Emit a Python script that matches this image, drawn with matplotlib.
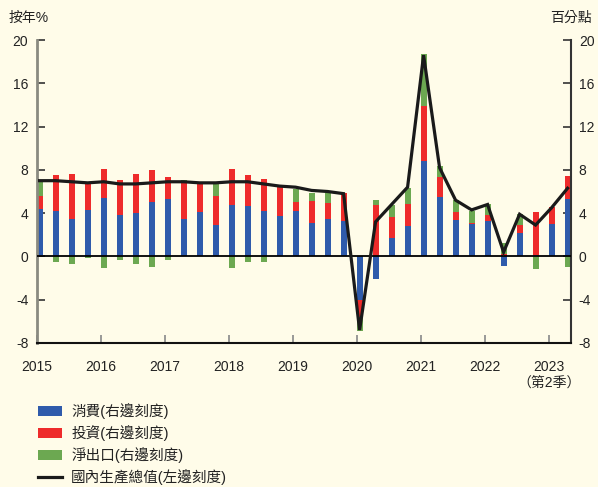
import matplotlib
matplotlib.use("Agg")
import matplotlib.pyplot as plt
from matplotlib.patches import Patch
from matplotlib.lines import Line2D
import numpy as np

plt.rcParams['font.family'] = ['Liberation Sans', 'Noto Sans CJK TC', 'DejaVu Sans']

quarters = [f"{y}Q{q}" for y in range(2015, 2024) for q in range(1, 5)][:34]

consumption = [4.4, 4.2, 3.5, 4.3, 5.4, 3.8, 4.0, 5.0, 5.3, 3.5, 4.1, 2.9,
               4.75, 4.7, 4.2, 3.7, 4.2, 3.1, 3.5, 3.3, -4.0, -2.1, 1.7, 2.85,
               8.8, 5.5, 3.4, 3.0, 3.25, -0.86, 2.2, 0.15, 3.0, 5.3]
investment = [1.2, 3.3, 4.1, 2.6, 2.7, 3.3, 3.6, 3.0, 2.0, 3.5, 2.7, 2.7,
              3.3, 2.8, 3.0, 2.7, 0.85, 2.0, 1.4, 2.55, -1.6, 4.75, 1.95, 2.0,
              5.06, 1.84, 0.7, 0.1, 0.58, 0.27, 0.74, 4.0, 1.6, 2.1]
net_exports = [1.4, -0.5, -0.7, -0.15, -1.1, -0.35, -0.7, -1.0, -0.3, 0.05, 0.0, 1.2,
               -1.1, -0.55, -0.5, 0.0, 1.15, 0.77, 0.95, 0.0, -1.25, 0.5, 1.1, 1.5,
               4.85, 1.0, 1.14, 1.13, 1.0, 1.0, 0.95, -1.17, 0.0, -1.0]
gdp = [7.0, 7.0, 6.9, 6.8, 6.9, 6.7, 6.7, 6.8, 6.9, 6.9, 6.8, 6.8,
       6.9, 6.9, 6.7, 6.5, 6.4, 6.1, 6.0, 5.8, -6.8, 3.2, 4.8, 6.4,
       18.6, 8.2, 5.2, 4.3, 4.8, 0.4, 3.9, 2.9, 4.5, 6.3]

year_labels = ["2015", "2016", "2017", "2018", "2019", "2020", "2021", "2022", "2023\n（第2季）"]
y_ticks = [-8, -4, 0, 4, 8, 12, 16, 20]

legend_labels = ["消費(右邊刻度)", "投資(右邊刻度)", "淨出口(右邊刻度)", "國內生產總值(左邊刻度)"]

c_blue = "#2f5bab"
c_red = "#ee2b2b"
c_green = "#6ca851"
bg = "#fffce9"

fig = plt.figure(figsize=(5.98, 4.87), dpi=100, facecolor=bg)
W, H = 598, 487
ax = fig.add_axes([36.6 / W, (H - 343) / H, (570.5 - 36.6) / W, 303 / H])
ax.set_facecolor(bg)

cons = np.array(consumption)
inv = np.array(investment)
net = np.array(net_exports)
x = np.arange(len(cons))
bw = 0.375

def stack_bottoms(vals_list):
    pos = np.zeros(len(x))
    neg = np.zeros(len(x))
    out = []
    for v in vals_list:
        b = np.where(v >= 0, pos, neg)
        out.append(b)
        pos = np.where(v >= 0, pos + v, pos)
        neg = np.where(v < 0, neg + v, neg)
    return out

b_c, b_i, b_n = stack_bottoms([cons, inv, net])
ax.bar(x, cons, bw, bottom=b_c, align='edge', color=c_blue, zorder=2)
ax.bar(x, inv, bw, bottom=b_i, align='edge', color=c_red, zorder=2)
ax.bar(x, net, bw, bottom=b_n, align='edge', color=c_green, zorder=2)

ax.axhline(0, color="black", lw=1.3, zorder=3)
ax.plot(x + bw / 2, gdp, color="#1a1a1a", lw=2.3, zorder=4, solid_joinstyle='miter')

ax.set_xlim(0, 33.37)
ax.set_ylim(-8, 20)

ax.set_yticks(y_ticks)
ax.set_yticklabels([str(t) for t in y_ticks])
ax.tick_params(axis='y', direction='in', length=6, width=1.2, color="#333333",
               labelsize=10, labelcolor="#222222", left=True, right=True,
               labelleft=True, labelright=True, pad=6)
ax.set_xticks(np.arange(0, 33, 4))
ax.set_xticklabels(year_labels)
ax.tick_params(axis='x', direction='in', length=6, width=1.2, color="#888888",
               labelsize=10, labelcolor="#222222", pad=12)
for lbl in ax.get_xticklabels():
    lbl.set_linespacing(1.25)

ax.spines['top'].set_visible(False)
ax.spines['left'].set_color("#8a8a80")
ax.spines['left'].set_linewidth(2)
ax.spines['right'].set_color("#333333")
ax.spines['right'].set_linewidth(1.5)
ax.spines['bottom'].set_color("#111111")
ax.spines['bottom'].set_linewidth(1.5)

fig.text(9 / W, 1 - 18 / H, "按年%", fontsize=10, color="#222222", ha='left', va='center')
fig.text(592 / W, 1 - 18 / H, "百分點", fontsize=10, color="#222222", ha='right', va='center')

handles = [Patch(facecolor=c_blue, edgecolor='none'),
           Patch(facecolor=c_red, edgecolor='none'),
           Patch(facecolor=c_green, edgecolor='none'),
           Line2D([0], [0], color="#1a1a1a", lw=2.3)]
leg = fig.legend(handles, legend_labels, loc='upper left',
                 bbox_to_anchor=(38 / W, 1 - 403 / H), frameon=False,
                 fontsize=10.5, labelcolor="#222222", handlelength=1.65,
                 handleheight=0.7, labelspacing=0.42, handletextpad=0.62,
                 borderaxespad=0, borderpad=0)

fig.savefig("out.png", dpi=100, facecolor=bg)
